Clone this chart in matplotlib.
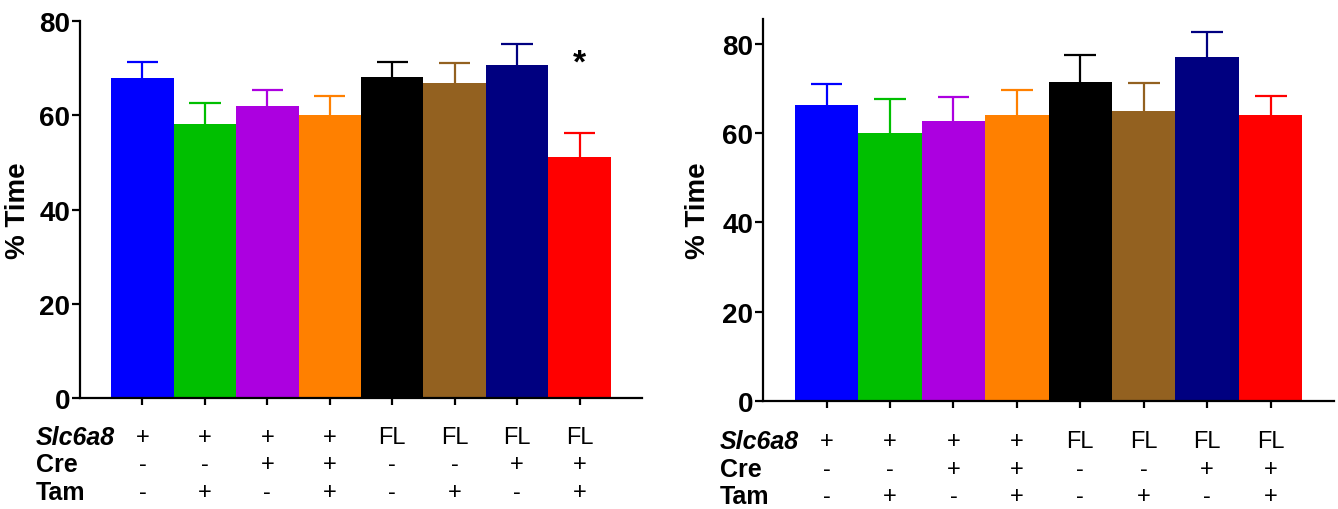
import matplotlib.pyplot as plt
import matplotlib.transforms as mtransforms

plt.rcParams['font.family'] = ['Liberation Sans', 'DejaVu Sans']

COLORS = ['#0000FF', '#00BF00', '#AC00E0', '#FF8000',
          '#000000', '#936120', '#000080', '#FF0000']

# left panel
left_mean = [67.9, 58.1, 62.0, 60.0, 68.2, 66.8, 70.7, 51.2]
left_sem = [3.4, 4.6, 3.4, 4.1, 3.1, 4.3, 4.4, 5.1]
# right panel
right_mean = [66.3, 60.0, 62.7, 63.9, 71.5, 64.8, 77.0, 64.0]
right_sem = [4.7, 7.7, 5.3, 5.8, 6.0, 6.4, 5.5, 4.3]

slc6a8 = ['+', '+', '+', '+', 'FL', 'FL', 'FL', 'FL']
cre = ['-', '-', '+', '+', '-', '-', '+', '+']
tam = ['-', '+', '-', '+', '-', '+', '-', '+']
row_names = ['Slc6a8', 'Cre', 'Tam']
yticks = [0, 20, 40, 60, 80]

fig = plt.figure(figsize=(13.38, 5.10), dpi=100)
ax1 = fig.add_axes([0.0598, 0.2176, 0.420, 0.739])
ax2 = fig.add_axes([0.5703, 0.2118, 0.4268, 0.749])


def draw_panel(ax, means, sems, ytop, row_y, label_x, ylabel_pad):
    x = list(range(len(means)))
    for i in x:
        ax.bar(i, means[i], width=1.0, color=COLORS[i], linewidth=0, zorder=2)
        # upper error bar only
        ax.vlines(i, means[i], means[i] + sems[i], color=COLORS[i],
                  linewidth=1.6, zorder=1)
        ax.hlines(means[i] + sems[i], i - 0.25, i + 0.25, color=COLORS[i],
                  linewidth=1.6, zorder=1)
    ax.set_xlim(-1, 8)
    ax.set_ylim(0, ytop)
    ax.set_yticks(yticks)
    ax.set_xticks(x)
    ax.set_xticklabels([])
    for s in ['top', 'right']:
        ax.spines[s].set_visible(False)
    for s in ['left', 'bottom']:
        ax.spines[s].set_linewidth(1.6)
    ax.tick_params(axis='y', labelsize=20, width=1.6, length=6, pad=1)
    ax.tick_params(axis='x', width=1.6, length=5)
    for lab in ax.get_yticklabels():
        lab.set_fontweight('bold')
    ax.set_ylabel('% Time', fontsize=20, fontweight='bold', labelpad=ylabel_pad)

    trans = mtransforms.blended_transform_factory(ax.transData, ax.transAxes)
    for row, vals in zip(row_y, [slc6a8, cre, tam]):
        for i, v in enumerate(vals):
            ax.text(i, row, v, transform=trans, ha='center', va='center',
                    fontsize=17)
    ftrans = mtransforms.blended_transform_factory(fig.transFigure, ax.transAxes)
    ax.text(label_x, row_y[0], row_names[0], transform=ftrans, ha='left',
            va='center', fontsize=18, fontweight='bold', style='italic')
    ax.text(label_x, row_y[1], row_names[1], transform=ftrans, ha='left',
            va='center', fontsize=18, fontweight='bold')
    ax.text(label_x, row_y[2], row_names[2], transform=ftrans, ha='left',
            va='center', fontsize=18, fontweight='bold')


draw_panel(ax1, left_mean, left_sem, 80, [-0.103, -0.175, -0.249], 0.027, 6)
draw_panel(ax2, right_mean, right_sem, 85.5, [-0.105, -0.178, -0.249], 0.538, 8)

ax1.text(7, 71.0, '*', ha='center', va='center', fontsize=24, fontweight='bold')

fig.savefig('out.png', dpi=100)
